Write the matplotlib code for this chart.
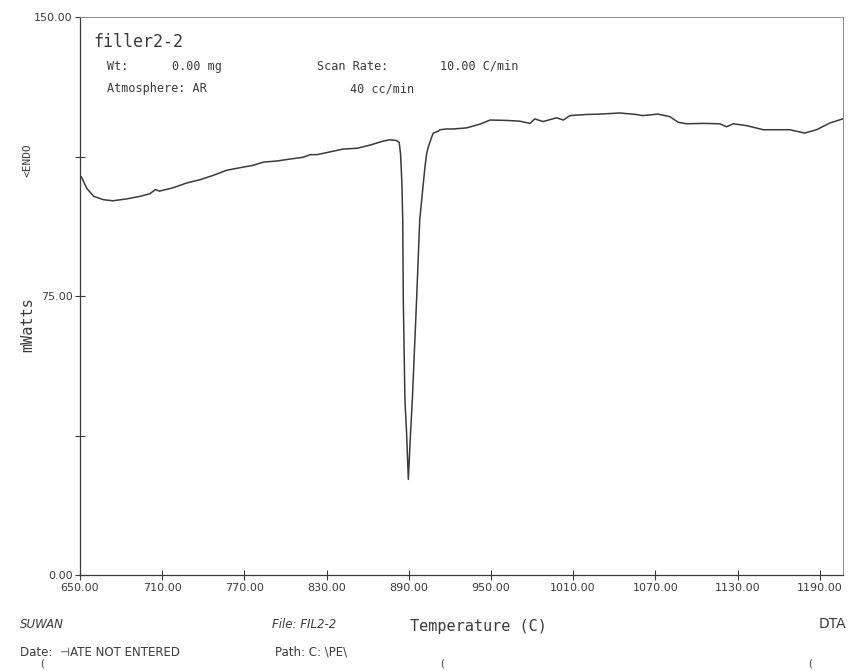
import matplotlib
matplotlib.use('Agg')
import matplotlib.pyplot as plt

# DTA trace, filler2-2
temp = [651, 655, 660, 667, 674, 684, 694, 701, 705, 708, 718, 728, 738, 747,
        757, 767, 776, 784, 794, 803, 813, 818, 823, 832, 842, 852, 862, 871,
        876, 881, 883, 884, 885, 885.6, 886, 887.2, 888.4, 889.7, 891.3, 892.6,
        895.7, 898, 900.6, 901.8, 903, 904.2, 906.7, 907.9, 911.5, 912.8, 917.6,
        922.5, 932.3, 942, 949.3, 961.5, 971, 978.5, 982, 988, 998, 1002.8,
        1007.7, 1019.8, 1029.6, 1044, 1056, 1061, 1072, 1080.7, 1086.7, 1092.8,
        1105, 1117, 1122, 1127, 1136.6, 1148.8, 1158.5, 1168.2, 1179, 1187.7,
        1197.4, 1206.7]
mwatts = [107.0, 103.9, 101.8, 100.9, 100.6, 101.1, 101.8, 102.5, 103.6, 103.2,
          104.1, 105.4, 106.3, 107.4, 108.8, 109.5, 110.1, 111.0, 111.3, 111.8,
          112.3, 113.0, 113.0, 113.7, 114.5, 114.7, 115.6, 116.6, 117.0, 116.8,
          116.3, 113.2, 105.2, 95.4, 73.9, 47.1, 38.2, 25.7, 38.2, 47.1, 73.9,
          95.4, 105.2, 109.6, 113.2, 115.0, 117.7, 118.8, 119.3, 119.7, 119.9,
          119.9, 120.2, 121.2, 122.3, 122.2, 122.0, 121.4, 122.6, 121.9, 122.9,
          122.3, 123.5, 123.8, 123.9, 124.2, 123.8, 123.5, 123.9, 123.2, 121.7,
          121.3, 121.4, 121.3, 120.5, 121.3, 120.8, 119.7, 119.7, 119.7, 118.8,
          119.7, 121.5, 122.6]

xticks = [650, 710, 770, 830, 890, 950, 1010, 1070, 1130, 1190]
yticks = [0, 37.5, 75, 112.5, 150]
ylabels = ['0.00', '', '75.00', '', '150.00']

narrow = ['Liberation Sans Narrow', 'DejaVu Sans']
mono = ['DejaVu Sans Mono']
ink = '#3a3a3a'

fig = plt.figure(figsize=(8.54, 6.72), dpi=100)
ax = fig.add_axes([0.0937, 0.1443, 0.8934, 0.8304])

ax.plot(temp, mwatts, color=ink, lw=1.1)

ax.set_xlim(650, 1207)
ax.set_ylim(0, 150)
ax.set_xticks(xticks)
ax.set_xticklabels([f'{t:.2f}' for t in xticks], family=narrow, fontsize=8, color=ink)
ax.set_yticks(yticks)
ax.set_yticklabels(ylabels, family=narrow, fontsize=8, color=ink)
ax.tick_params(axis='both', direction='inout', length=7, width=0.8, color=ink, pad=2)

for side in ['left', 'bottom']:
    ax.spines[side].set_color(ink)
    ax.spines[side].set_linewidth(0.9)
for side in ['top', 'right']:
    ax.spines[side].set_color('#8a8a8a')
    ax.spines[side].set_linewidth(0.7)

# header block inside the plot
ax.text(0.017, 0.955, 'filler2-2', transform=ax.transAxes, family=mono,
        fontsize=12, color=ink, va='center')
ax.text(0.035, 0.912, 'Wt:', transform=ax.transAxes, family=mono, fontsize=8.5, color=ink, va='center')
ax.text(0.12, 0.912, '0.00 mg', transform=ax.transAxes, family=mono, fontsize=8.5, color=ink, va='center')
ax.text(0.31, 0.912, 'Scan Rate:', transform=ax.transAxes, family=mono, fontsize=8.5, color=ink, va='center')
ax.text(0.472, 0.912, '10.00 C/min', transform=ax.transAxes, family=mono, fontsize=8.5, color=ink, va='center')
ax.text(0.035, 0.871, 'Atmosphere: AR', transform=ax.transAxes, family=mono, fontsize=8.5, color=ink, va='center')
ax.text(0.354, 0.871, '40 cc/min', transform=ax.transAxes, family=mono, fontsize=8.5, color=ink, va='center')

# y-axis labels
fig.text(28 / 854, 1 - 160 / 672, '<ENDO', rotation=90, family=mono, fontsize=8,
         color=ink, ha='center', va='center')
fig.text(28 / 854, 1 - 325 / 672, 'mWatts', rotation=90, family=mono, fontsize=11,
         color=ink, ha='center', va='center')

# footer
fig.text(20 / 854, 1 - 624 / 672, 'SUWAN', family=narrow, style='italic', fontsize=8.5,
         color=ink, va='center')
fig.text(272 / 854, 1 - 624 / 672, 'File: FIL2-2', family=narrow, style='italic', fontsize=8.5,
         color=ink, va='center')
fig.text(410 / 854, 1 - 626 / 672, 'Temperature (C)', family=mono, fontsize=11,
         color=ink, va='center')
fig.text(846 / 854, 1 - 624 / 672, 'DTA', family=narrow, fontsize=10,
         color=ink, va='center', ha='right')
fig.text(20 / 854, 1 - 652 / 672, 'Date:  \u22a3ATE NOT ENTERED', family=narrow, fontsize=8.5,
         color=ink, va='center')
fig.text(275 / 854, 1 - 652 / 672, 'Path: C: \\PE\\', family=narrow, fontsize=8.5,
         color=ink, va='center')
for px in [40, 440, 808]:
    fig.text(px / 854, 1 - 664 / 672, '(', family=narrow, fontsize=7, color=ink, va='center')

fig.savefig('out.png', dpi=100, facecolor='white')
